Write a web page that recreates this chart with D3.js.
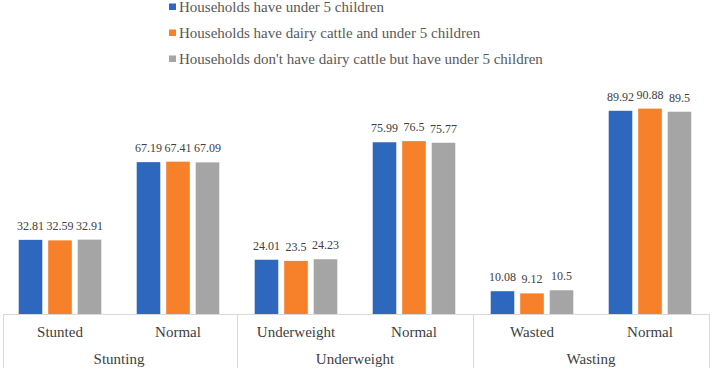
<!DOCTYPE html>
<html>
<head>
<meta charset="utf-8">
<script src="https://cdn.jsdelivr.net/npm/d3@7"></script>
<style>
  body { margin: 0; background: #fff; }
</style>
</head>
<body>
<svg id="mySvg" width="710" height="368"></svg>
<script>
// chart data
var categories = ["Stunted", "Normal", "Underweight", "Normal ", "Wasted", "Normal  "];
var groups = ["Stunting", "Underweight", "Wasting"];
var seriesNames = [
  "Households have under 5 children",
  "Households have dairy cattle and under 5 children",
  "Households don't have dairy cattle but have under 5 children"
];
var allKids = [32.81, 67.19, 24.01, 75.99, 10.08, 89.92];
var dairyKids = [32.59, 67.41, 23.5, 76.5, 9.12, 90.88];
var noDairyKids = [32.91, 67.09, 24.23, 75.77, 10.5, 89.5];
var colors = ["#2e67be", "#f7802a", "#a5a5a5"];

var series = [allKids, dairyKids, noDairyKids];
var width = 710, height = 368;
var base = 314;
var font = "Liberation Serif";

var svg = d3.select("#mySvg");

var x = d3.scaleBand()
    .domain(categories)
    .range([1, 709])
    .paddingInner(0.3)
    .paddingOuter(0.15);
var xs = d3.scaleBand()
    .domain(d3.range(series.length))
    .range([0, x.bandwidth()])
    .paddingInner(0.2);
var y = d3.scaleLinear()
    .domain([0, 100])
    .range([base, 88]);

// bars
series.forEach(function (vals, s) {
  var g = svg.append("g");
  g.selectAll("rect")
    .data(vals)
    .join("rect")
      .attr("x", (d, i) => x(categories[i]) + xs(s))
      .attr("y", d => y(d))
      .attr("width", xs.bandwidth())
      .attr("height", d => y(0) - y(d))
      .attr("fill", colors[s]);
  g.selectAll("text")
    .data(vals)
    .join("text")
      .attr("x", (d, i) => x(categories[i]) + xs(s) + xs.bandwidth() / 2)
      .attr("y", d => y(d) - 10)
      .attr("text-anchor", "middle")
      .style("font-family", font)
      .style("font-size", "12px")
      .attr("fill", "#404040")
      .text(d => d);
});

// axis + category separators
var lineColor = "#d9d9d9";
svg.append("line")
    .attr("x1", 3).attr("x2", 709)
    .attr("y1", base + 0.5).attr("y2", base + 0.5)
    .attr("stroke", lineColor);
var step = x.step();
[0, 2, 4, 6].forEach(function (k) {
  var xx = k < 6 ? x(categories[k]) - x.paddingInner() * step / 2 : 709;
  xx = Math.max(3, Math.round(xx)) + 0.5;
  svg.append("line")
      .attr("x1", xx).attr("x2", xx)
      .attr("y1", base).attr("y2", height)
      .attr("stroke", lineColor);
});

// category labels
svg.append("g").selectAll("text")
  .data(categories)
  .join("text")
    .attr("x", d => x(d) + x.bandwidth() / 2)
    .attr("y", 337)
    .attr("text-anchor", "middle")
    .style("font-family", font)
    .style("font-size", "15px")
    .attr("fill", "#404040")
    .text(d => d.trim());

// group labels
svg.append("g").selectAll("text")
  .data(groups)
  .join("text")
    .attr("x", (d, i) => (x(categories[2 * i]) + x(categories[2 * i + 1]) + x.bandwidth()) / 2)
    .attr("y", 364)
    .attr("text-anchor", "middle")
    .style("font-family", font)
    .style("font-size", "15px")
    .attr("fill", "#404040")
    .text(d => d);

// legend
var legend = svg.append("g").attr("transform", "translate(169,0)");
seriesNames.forEach(function (name, i) {
  var row = legend.append("g").attr("transform", "translate(0," + (7 + i * 26) + ")");
  row.append("rect")
      .attr("x", 0).attr("y", -3.5)
      .attr("width", 7).attr("height", 6.5)
      .attr("fill", colors[i]);
  row.append("text")
      .attr("x", 10).attr("y", 5)
      .style("font-family", font)
      .style("font-size", "15px")
      .attr("fill", "#595959")
      .text(name);
});
</script>
</body>
</html>
